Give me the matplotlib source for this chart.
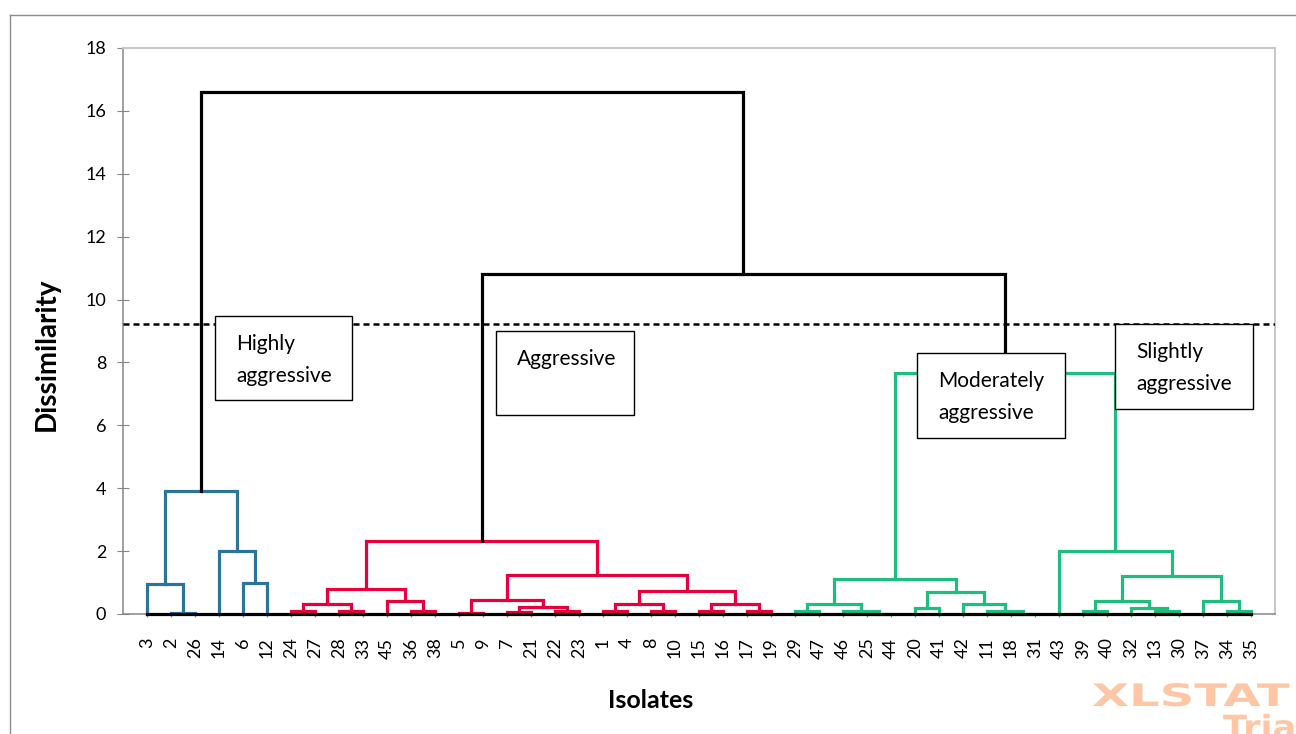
import matplotlib
matplotlib.use("Agg")
import matplotlib.pyplot as plt
from matplotlib.patches import Rectangle, PathPatch
from matplotlib.lines import Line2D
from matplotlib.textpath import TextPath
from matplotlib.font_manager import FontProperties
from matplotlib.transforms import Affine2D

plt.rcParams['font.family'] = ['Lato', 'DejaVu Sans']

# leaf order along the x axis
isolates = [3, 2, 26, 14, 6, 12, 24, 27, 28, 33, 45, 36, 38, 5, 9, 7, 21, 22, 23,
            1, 4, 8, 10, 15, 16, 17, 19, 29, 47, 46, 25, 44, 20, 41, 42, 11, 18, 31,
            43, 39, 40, 32, 13, 30, 37, 34, 35]

# merges: (node, left, right, dissimilarity)
blue_links = [("b1", 2, 26, 0.02), ("b2", 3, "b1", 0.95), ("b3", 6, 12, 1.0),
              ("b4", 14, "b3", 2.0), ("b5", "b2", "b4", 3.92)]
red_links = [("r1", 24, 27, 0.1), ("r2", 28, 33, 0.1), ("r3", "r1", "r2", 0.32),
             ("r4", 36, 38, 0.1), ("r5", 45, "r4", 0.42), ("r6", "r3", "r5", 0.8),
             ("r7", 5, 9, 0.04), ("r8", 7, 21, 0.06), ("r9", 22, 23, 0.1),
             ("r10", "r8", "r9", 0.22), ("r11", "r7", "r10", 0.45),
             ("r12", 1, 4, 0.1), ("r13", 8, 10, 0.1), ("r14", "r12", "r13", 0.33),
             ("r15", 15, 16, 0.1), ("r16", 17, 19, 0.1), ("r17", "r15", "r16", 0.33),
             ("r18", "r14", "r17", 0.72), ("r19", "r11", "r18", 1.24),
             ("r20", "r6", "r19", 2.33)]
green_links = [("g1", 29, 47, 0.1), ("g2", 25, 44, 0.0), ("g3", 46, "g2", 0.1),
               ("g4", "g1", "g3", 0.33), ("g5", 20, 41, 0.2), ("g6", 18, 31, 0.0),
               ("g7", 11, "g6", 0.1), ("g8", 42, "g7", 0.33), ("g9", "g5", "g8", 0.7),
               ("g10", "g4", "g9", 1.1),
               ("s1", 39, 40, 0.1), ("s2", 13, 30, 0.1), ("s3", 32, "s2", 0.2),
               ("s4", "s1", "s3", 0.4), ("s5", 34, 35, 0.1), ("s6", 37, "s5", 0.4),
               ("s7", "s4", "s6", 1.2), ("s8", 43, "s7", 2.0),
               ("s9", "g10", "s8", 7.65)]
top_links = [("t1", "r20", "s9", 10.8), ("t2", "b5", "t1", 16.6)]

cut_level = 9.22
group_names = ["Highly\naggressive", "Aggressive", "Moderately\naggressive", "Slightly\naggressive"]

BLUE = "#2C759A"
RED = "#E8003D"
GREEN = "#1DBE7E"
GRAY = "#868686"

fig = plt.figure(figsize=(12.96, 7.34), dpi=100)
ax = fig.add_axes([123 / 1296, 120 / 734, 1152 / 1296, 566 / 734])

pos = {iso: i + 1 for i, iso in enumerate(isolates)}
hgt = {iso: 0.0 for iso in isolates}
for links, color in [(blue_links, BLUE), (red_links, RED), (green_links, GREEN), (top_links, "black")]:
    for name, a, b, h in links:
        xa, xb = pos[a], pos[b]
        ax.plot([xa, xa, xb, xb], [hgt[a], h, h, hgt[b]], color=color, lw=2.3,
                solid_joinstyle="miter", clip_on=False, zorder=2)
        pos[name] = (xa + xb) / 2
        hgt[name] = h

# baseline
ax.plot([1, len(isolates)], [0, 0], color="black", lw=2.3, clip_on=False, zorder=3)

ax.axhline(cut_level, color="black", lw=1.8, dashes=(2.4, 1.6), zorder=3)

# group boxes (pixel layout converted to data units)
px_x = lambda p: (p - 123) / 24
px_y = lambda p: (614 - p) / 31.44
boxes = [(215, 316, 352, 400), (496, 331, 634, 415), (917, 353, 1065, 438), (1115, 324, 1253, 409)]
for (x0, y0, x1, y1), name in zip(boxes, group_names):
    ax.add_patch(Rectangle((px_x(x0), px_y(y1)), px_x(x1) - px_x(x0), px_y(y0) - px_y(y1),
                           facecolor="white", edgecolor="black", lw=1.0, zorder=5, clip_on=False))
    for k, line in enumerate(name.split("\n")):
        ax.text(px_x(x0 + 21), px_y(y0 + 28 + 32 * k), line, fontsize=15,
                ha="left", va="center", zorder=6)

ax.set_xlim(0, len(isolates) + 1)
ax.set_ylim(0, 18)
ax.set_yticks(range(0, 19, 2))
ax.set_xticks(range(1, len(isolates) + 1))
ax.set_xticklabels([str(i) for i in isolates], rotation=90, fontsize=13)
ax.tick_params(axis="y", direction="inout", length=8, color=GRAY, labelsize=13, pad=8)
ax.tick_params(axis="x", direction="out", length=2, color=GRAY, pad=15)

for s in ["left", "bottom"]:
    ax.spines[s].set_color(GRAY)
    ax.spines[s].set_linewidth(1.1)
for s in ["top", "right"]:
    ax.spines[s].set_color("#C8C8C8")
    ax.spines[s].set_linewidth(1.5)

fig.text(47 / 1296, 1 - 354 / 734, "Dissimilarity", rotation=90, fontsize=20,
         fontweight="bold", ha="center", va="center")
fig.text(651 / 1296, 1 - 708 / 734, "Isolates", fontsize=18, fontweight="bold",
         ha="center", va="baseline")

# outer frame
fig.add_artist(Line2D([10 / 1296, 1], [1 - 15 / 734, 1 - 15 / 734], color="#8C8C8C", lw=1))
fig.add_artist(Line2D([10 / 1296, 10 / 1296], [0, 1 - 15 / 734], color="#8C8C8C", lw=1))

# watermark
fp = FontProperties(family="DejaVu Sans", weight="bold")
for txt, size, sx, x, y in [("XLSTAT", 31, 1.55, 1092, 734 - 706), ("Trial", 32, 1.1, 1223, 734 - 738)]:
    tp = TextPath((0, 0), txt, size=size, prop=fp)
    patch = PathPatch(tp, facecolor="#FFC6A6", edgecolor="none")
    patch.set_transform(Affine2D().scale(sx, 1.0).translate(x, y))
    fig.add_artist(patch)

fig.savefig("out.png", dpi=100)
